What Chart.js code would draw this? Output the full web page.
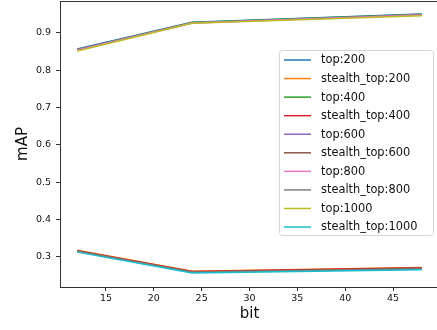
<!DOCTYPE html>
<html>
<head>
<meta charset="utf-8">
<script src="https://cdn.jsdelivr.net/npm/chart.js@4.4.0/dist/chart.umd.min.js"></script>
<style>
html,body{margin:0;padding:0;background:#fff;width:437px;height:330px;overflow:hidden;}
#wrap{position:absolute;left:0;top:0;width:440px;height:330px;}
</style>
</head>
<body>
<div id="wrap"><canvas id="c"></canvas></div>
<script>
const bits = [12, 24, 48];
const seriesLabels = ['top:200','stealth_top:200','top:400','stealth_top:400','top:600','stealth_top:600','top:800','stealth_top:800','top:1000','stealth_top:1000'];
const top200 = [0.857, 0.929, 0.951];
const stealth200 = [0.318, 0.262, 0.272];
const top400 = [0.856, 0.928, 0.950];
const stealth400 = [0.317, 0.261, 0.271];
const top600 = [0.855, 0.927, 0.949];
const stealth600 = [0.316, 0.260, 0.270];
const top800 = [0.854, 0.927, 0.948];
const stealth800 = [0.315, 0.259, 0.268];
const top1000 = [0.852, 0.926, 0.946];
const stealth1000 = [0.313, 0.257, 0.266];
const xTicks = [15, 20, 25, 30, 35, 40, 45];
const yTicks = [0.3, 0.4, 0.5, 0.6, 0.7, 0.8, 0.9];
const colors = ['#1f77b4','#ff7f0e','#2ca02c','#d62728','#9467bd','#8c564b','#e377c2','#7f7f7f','#bcbd22','#17becf'];
const allSeries = [top200, stealth200, top400, stealth400, top600, stealth600, top800, stealth800, top1000, stealth1000];

const datasets = allSeries.map((vals, i) => ({
  label: seriesLabels[i],
  data: bits.map((b, j) => ({x: b, y: vals[j]})),
  borderColor: colors[i],
  backgroundColor: colors[i],
  borderWidth: 1.5,
  pointRadius: 0,
  tension: 0,
  fill: false,
  order: -i
}));

const FONT = 'DejaVu Sans';

const framePlugin = {
  id: 'frame',
  afterDatasetsDraw(chart) {
    const {ctx, chartArea: a} = chart;
    ctx.save();
    ctx.strokeStyle = '#333';
    ctx.lineWidth = 1;
    ctx.beginPath();
    ctx.moveTo(a.left, a.top + 0.5);
    ctx.lineTo(a.right, a.top + 0.5);
    ctx.moveTo(a.right - 0.5, a.top);
    ctx.lineTo(a.right - 0.5, a.bottom);
    ctx.stroke();
    ctx.restore();
  },
  afterDraw(chart) {
    const ctx = chart.ctx;
    const bx = 279, by = 50, bw = 154, bh = 185, r = 3;
    ctx.save();
    ctx.fillStyle = 'rgba(255,255,255,0.8)';
    ctx.strokeStyle = '#d6d6d6';
    ctx.lineWidth = 1;
    ctx.beginPath();
    ctx.roundRect(bx + 0.5, by + 0.5, bw, bh, r);
    ctx.fill();
    ctx.stroke();
    ctx.font = '11.4px "' + FONT + '"';
    ctx.textBaseline = 'middle';
    ctx.textAlign = 'left';
    chart.data.datasets.forEach((ds, i) => {
      const y = 60 + i * 18.56;
      ctx.strokeStyle = ds.borderColor;
      ctx.lineWidth = 1.5;
      ctx.beginPath();
      ctx.moveTo(284, y);
      ctx.lineTo(311, y);
      ctx.stroke();
      ctx.fillStyle = '#111';
      ctx.fillText(ds.label, 321, y + 0.5);
    });
    ctx.restore();
  }
};

new Chart(document.getElementById('c'), {
  type: 'line',
  data: { datasets },
  plugins: [framePlugin],
  options: {
    responsive: true,
    maintainAspectRatio: false,
    animation: false,
    layout: { padding: { top: 1, right: 1, left: 0, bottom: 0 } },
    plugins: { legend: { display: false }, tooltip: { enabled: false } },
    scales: {
      x: {
        type: 'linear',
        min: 10.2,
        max: 49.8,
        afterBuildTicks: s => { s.ticks = xTicks.map(v => ({value: v})); },
        afterFit: s => { s.height = 43; s.paddingLeft = 0; s.paddingRight = 0; },
        grid: { display: true, drawOnChartArea: false, tickLength: 4, color: '#333', tickWidth: 1 },
        border: { display: true, color: '#333', width: 1 },
        ticks: { color: '#111', font: { family: FONT, size: 9.5 }, padding: 2, maxRotation: 0, autoSkip: false },
        title: { display: true, text: 'bit', color: '#111', font: { family: FONT, size: 15, lineHeight: 1.2 }, padding: { top: 0, bottom: 7 } }
      },
      y: {
        type: 'linear',
        min: 0.2196,
        max: 0.9857,
        afterBuildTicks: s => { s.ticks = yTicks.map(v => ({value: v})); },
        afterFit: s => { s.width = 60; s.paddingTop = 0; s.paddingBottom = 0; },
        grid: { display: true, drawOnChartArea: false, tickLength: 4, color: '#333', tickWidth: 1 },
        border: { display: true, color: '#333', width: 1 },
        ticks: { color: '#111', font: { family: FONT, size: 9.5 }, padding: 5, autoSkip: false, callback: v => v.toFixed(1) },
        title: { display: true, text: 'mAP', color: '#111', font: { family: FONT, size: 15, lineHeight: '46px' }, padding: 0 }
      }
    }
  }
});
</script>
</body>
</html>
